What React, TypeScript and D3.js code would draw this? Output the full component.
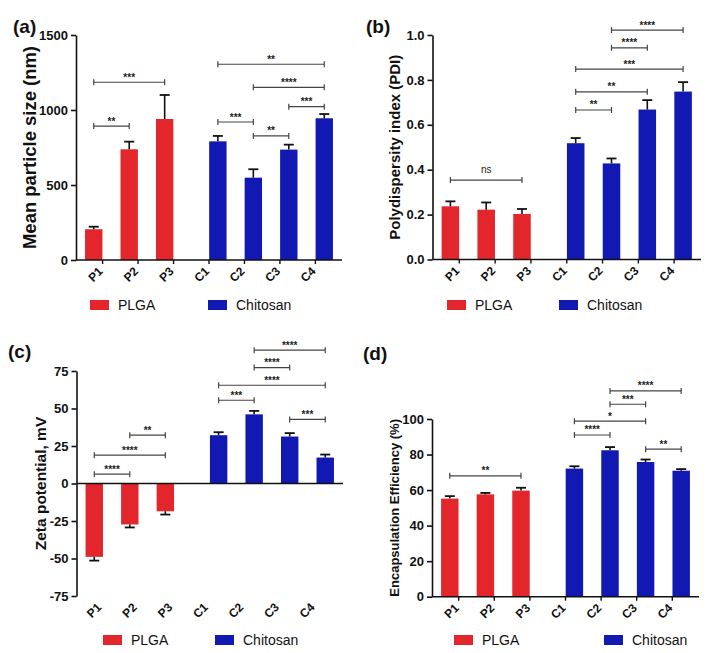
import React, { useRef, useEffect } from 'react';
import * as d3 from 'd3';

// categories and groups
const categories = ['P1', 'P2', 'P3', 'C1', 'C2', 'C3', 'C4'];
const groupOf = ['PLGA', 'PLGA', 'PLGA', 'Chitosan', 'Chitosan', 'Chitosan', 'Chitosan'];
const legendGroups = ['PLGA', 'Chitosan'];

// (a) mean particle size, nm
const sizeMeans = [205, 738, 940, 791, 549, 736, 945];
const sizeErr = [17, 51, 160, 36, 56, 33, 28];
const sizeTicks = [0, 500, 1000, 1500];
const sizeSig = [
  { a: 'P1', b: 'P2', label: '**', level: 893 },
  { a: 'P1', b: 'P3', label: '***', level: 1185 },
  { a: 'C1', b: 'C4', label: '**', level: 1305 },
  { a: 'C2', b: 'C4', label: '****', level: 1151 },
  { a: 'C3', b: 'C4', label: '***', level: 1022 },
  { a: 'C1', b: 'C2', label: '***', level: 920 },
  { a: 'C2', b: 'C3', label: '**', level: 827 },
];

// (b) polydispersity index
const pdiMeans = [0.237, 0.222, 0.203, 0.518, 0.428, 0.668, 0.748];
const pdiErr = [0.022, 0.032, 0.022, 0.023, 0.022, 0.042, 0.042];
const pdiTicks = [0, 0.2, 0.4, 0.6, 0.8, 1.0];
const pdiSig = [
  { a: 'P1', b: 'P3', label: 'ns', level: 0.354 },
  { a: 'C1', b: 'C2', label: '**', level: 0.666 },
  { a: 'C1', b: 'C3', label: '**', level: 0.747 },
  { a: 'C1', b: 'C4', label: '***', level: 0.848 },
  { a: 'C2', b: 'C3', label: '****', level: 0.943 },
  { a: 'C2', b: 'C4', label: '****', level: 1.022 },
];

// (c) zeta potential, mV
const zetaMeans = [-48.9, -27.3, -18.5, 32.2, 46.1, 31.3, 17.3];
const zetaErr = [2.5, 2.0, 2.2, 2.0, 2.3, 2.3, 2.0];
const zetaTicks = [-75, -50, -25, 0, 25, 50, 75];
const zetaSig = [
  { a: 'C2', b: 'C4', label: '****', level: 88.9 },
  { a: 'C2', b: 'C3', label: '****', level: 77.3 },
  { a: 'C1', b: 'C4', label: '****', level: 65.5 },
  { a: 'C1', b: 'C2', label: '***', level: 55.5 },
  { a: 'C3', b: 'C4', label: '***', level: 42.7 },
  { a: 'P2', b: 'P3', label: '**', level: 32.2 },
  { a: 'P1', b: 'P3', label: '****', level: 18.9 },
  { a: 'P1', b: 'P2', label: '****', level: 6.2 },
];

// (d) encapsulation efficiency, %
const eeMeans = [55.2, 57.6, 59.7, 72.1, 82.4, 75.8, 70.9];
const eeErr = [1.4, 0.8, 1.6, 1.3, 1.8, 1.4, 0.9];
const eeTicks = [0, 20, 40, 60, 80, 100];
const eeSig = [
  { a: 'C2', b: 'C4', label: '****', level: 115.8 },
  { a: 'C2', b: 'C3', label: '***', level: 108.3 },
  { a: 'C1', b: 'C3', label: '*', level: 98.8 },
  { a: 'C1', b: 'C2', label: '****', level: 91 },
  { a: 'C3', b: 'C4', label: '**', level: 83 },
  { a: 'P1', b: 'P3', label: '**', level: 68 },
];

const colors: Record<string, string> = { PLGA: '#e2262b', Chitosan: '#1219b3' };
const FONT = "'Liberation Sans', Arial, sans-serif";

const panels = [
  {
    tag: '(a)', tagX: 13, tagY: 33,
    means: sizeMeans, errs: sizeErr, ticks: sizeTicks, sig: sizeSig, domain: [0, 1500],
    fmt: (d: number) => String(d),
    left: 76, right: 342, top: 35, bottom: 260,
    title: 'Mean particle size (nm)', titleX: 29, titleSize: 19, titleWeight: 600, titleLen: 203,
    legend: [90, 208], legendY: 300,
  },
  {
    tag: '(b)', tagX: 366, tagY: 33,
    means: pdiMeans, errs: pdiErr, ticks: pdiTicks, sig: pdiSig, domain: [0, 1],
    fmt: d3.format('.1f'),
    left: 432.5, right: 701, top: 35, bottom: 259.5,
    title: 'Polydispersity index (PDI)', titleX: 394.5, titleSize: 15, titleWeight: 700, titleLen: 0,
    legend: [447, 559], legendY: 300,
  },
  {
    tag: '(c)', tagX: 8, tagY: 358,
    means: zetaMeans, errs: zetaErr, ticks: zetaTicks, sig: zetaSig, domain: [-75, 75],
    fmt: (d: number) => String(d),
    left: 76.5, right: 343, top: 371, bottom: 596,
    title: 'Zeta potential, mV', titleX: 40, titleSize: 15.5, titleWeight: 700, titleLen: 0,
    legend: [103, 215], legendY: 635,
  },
  {
    tag: '(d)', tagX: 363, tagY: 360,
    means: eeMeans, errs: eeErr, ticks: eeTicks, sig: eeSig, domain: [0, 100],
    fmt: (d: number) => String(d),
    left: 432, right: 699, top: 419, bottom: 596.7,
    title: 'Encapsulation Efficiency (%)', titleX: 394.5, titleSize: 13, titleWeight: 700, titleLen: 0,
    legend: [454, 604], legendY: 635,
  },
];

function App() {
  const chartRef = useRef<SVGSVGElement>(null);

  useEffect(() => {
    drawChart();
  }, []);

  const drawChart = () => {
    const svg = d3.select(chartRef.current);
    svg.selectAll('*').remove();
    svg.append('rect').attr('width', 712).attr('height', 653).attr('fill', '#fff');
    panels.forEach((p) => drawPanel(svg, p));
  };

  const drawPanel = (svg: any, p: any) => {
    const g = svg.append('g').attr('font-family', FONT);
    const x = d3.scaleLinear().domain([-0.5, 7]).range([p.left, p.right]);
    const y = d3.scaleLinear().domain(p.domain).range([p.bottom, p.top]);
    const step = x(1) - x(0);
    const barW = step * 0.49;
    // P bars sit a quarter slot left of their tick, C bars a quarter slot right
    const slot = (i: number) => i + (groupOf[i] === 'PLGA' ? 0 : 0.5);
    const cx = (i: number) => x(slot(i));
    const y0 = y(0);

    // bars
    g.selectAll('rect.bar')
      .data(p.means)
      .enter()
      .append('rect')
      .attr('x', (d: number, i: number) => cx(i) - barW / 2)
      .attr('y', (d: number) => y(Math.max(0, d)))
      .attr('width', barW)
      .attr('height', (d: number) => Math.abs(y(d) - y0))
      .attr('fill', (d: number, i: number) => colors[groupOf[i]]);

    // error bars (one-sided)
    p.means.forEach((m: number, i: number) => {
      const tip = m + Math.sign(m) * p.errs[i];
      g.append('line')
        .attr('x1', cx(i)).attr('x2', cx(i))
        .attr('y1', y(m)).attr('y2', y(tip))
        .attr('stroke', '#111').attr('stroke-width', 1.6);
      g.append('line')
        .attr('x1', cx(i) - 5).attr('x2', cx(i) + 5)
        .attr('y1', y(tip)).attr('y2', y(tip))
        .attr('stroke', '#111').attr('stroke-width', 1.8);
    });

    // y axis
    const yAxis = d3
      .axisLeft(y)
      .tickValues(p.ticks)
      .tickSize(5)
      .tickSizeOuter(0)
      .tickPadding(3)
      .tickFormat(p.fmt);
    const ya = g.append('g').attr('transform', `translate(${p.left},0)`).call(yAxis);
    ya.selectAll('path, line').attr('stroke', '#111').attr('stroke-width', 1.6);
    ya.selectAll('text')
      .attr('font-family', FONT)
      .attr('font-size', 13)
      .attr('font-weight', 700)
      .attr('fill', '#111');

    // x axis line at zero
    g.append('line')
      .attr('x1', p.left).attr('x2', p.right)
      .attr('y1', y0).attr('y2', y0)
      .attr('stroke', '#111').attr('stroke-width', 1.6);

    // x ticks and rotated labels
    const hasNeg = p.domain[0] < 0;
    categories.forEach((c, i) => {
      const tx = x(i + 0.25);
      if (!hasNeg) {
        g.append('line')
          .attr('x1', tx).attr('x2', tx)
          .attr('y1', y0).attr('y2', y0 + 4)
          .attr('stroke', '#111').attr('stroke-width', 1.4);
      }
      const lx = tx + (hasNeg ? -1 : 1);
      const ly = p.bottom + 12;
      g.append('text')
        .attr('transform', `translate(${lx},${ly}) rotate(-45)`)
        .attr('text-anchor', 'end')
        .attr('font-size', 12)
        .attr('font-weight', 700)
        .attr('fill', '#111')
        .text(c);
    });

    // significance brackets
    p.sig.forEach((s: any) => {
      const x1 = cx(categories.indexOf(s.a));
      const x2 = cx(categories.indexOf(s.b));
      const yy = y(s.level);
      g.append('line')
        .attr('x1', x1).attr('x2', x2).attr('y1', yy).attr('y2', yy)
        .attr('stroke', '#444').attr('stroke-width', 1.2);
      [x1, x2].forEach((xe) => {
        g.append('line')
          .attr('x1', xe).attr('x2', xe).attr('y1', yy - 3).attr('y2', yy + 3)
          .attr('stroke', '#444').attr('stroke-width', 1.2);
      });
      g.append('text')
        .attr('x', (x1 + x2) / 2)
        .attr('y', s.label === 'ns' ? yy - 7 : yy - 1.5)
        .attr('text-anchor', 'middle')
        .attr('font-size', 10)
        .attr('font-weight', s.label === 'ns' ? 400 : 700)
        .attr('fill', '#222')
        .text(s.label);
    });

    // y title
    const ty = g
      .append('text')
      .attr('transform', `translate(${p.titleX},${(p.top + p.bottom) / 2}) rotate(-90)`)
      .attr('text-anchor', 'middle')
      .attr('dominant-baseline', 'central')
      .attr('font-size', p.titleSize)
      .attr('font-weight', p.titleWeight)
      .attr('fill', '#111')
      .text(p.title);
    if (p.titleLen) ty.attr('textLength', p.titleLen).attr('lengthAdjust', 'spacingAndGlyphs');

    // panel tag
    g.append('text')
      .attr('x', p.tagX).attr('y', p.tagY)
      .attr('font-size', 19)
      .attr('font-weight', 700)
      .attr('fill', '#111')
      .text(p.tag);

    // legend
    legendGroups.forEach((name, k) => {
      const lx = p.legend[k];
      g.append('rect')
        .attr('x', lx).attr('y', p.legendY)
        .attr('width', 19).attr('height', 10)
        .attr('fill', colors[name]);
      g.append('text')
        .attr('x', lx + 28).attr('y', p.legendY + 5)
        .attr('dominant-baseline', 'central')
        .attr('font-size', 14)
        .attr('fill', '#111')
        .text(name);
    });
  };

  return (
    <svg
      ref={chartRef}
      width={712}
      height={653}
      style={{ position: 'absolute', left: 0, top: 0, display: 'block' }}
    />
  );
}

export default App;
